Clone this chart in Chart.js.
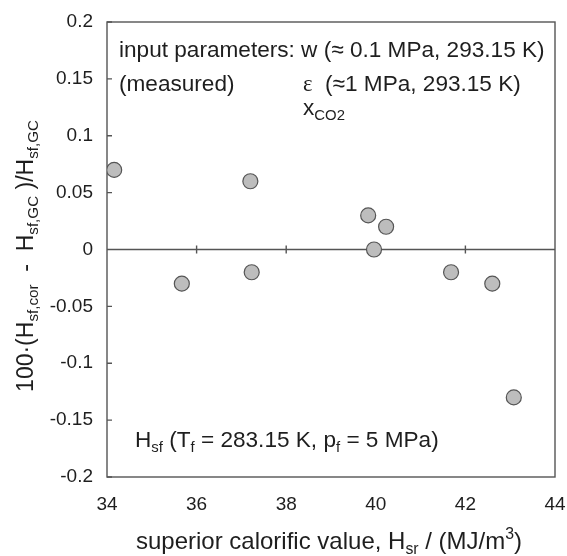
<!DOCTYPE html>
<html>
<head>
<meta charset="utf-8">
<script src="https://cdn.jsdelivr.net/npm/chart.js@4/dist/chart.umd.min.js"></script>
<style>
  html, body { margin:0; padding:0; background:#fff; }
  #wrap { width:567px; height:556px; }
</style>
</head>
<body>
<div id="wrap"><canvas id="chart" width="567" height="556"></canvas></div>
<script>
// data
const hsf = [34.16, 35.67, 37.2, 37.23, 39.83, 39.96, 40.23, 41.68, 42.6, 43.08];
const deviation = [0.07, -0.03, 0.06, -0.02, 0.03, 0, 0.02, -0.02, -0.03, -0.13];
const xTicks = [34, 36, 38, 40, 42, 44];
const yTicks = [-0.2, -0.15, -0.1, -0.05, 0, 0.05, 0.1, 0.15, 0.2];

const FONT = '"Liberation Sans", Arial, sans-serif';
const SERIF = '"Liberation Serif", serif';
const TXT = '#1e1e1e';

// draws a run of [text, 'n'|'sub'|'sup', font?] pieces starting at x,y (baseline)
function drawRich(ctx, parts, x, y, size) {
  ctx.textBaseline = 'alphabetic';
  ctx.textAlign = 'left';
  parts.forEach(([t, kind, fam]) => {
    const s = kind === 'n' ? size : size * 0.66;
    const dy = kind === 'sub' ? size * 0.2 : kind === 'sup' ? -size * 0.4 : 0;
    ctx.font = s + 'px ' + (fam || FONT);
    ctx.fillText(t, x, y + dy);
    x += ctx.measureText(t).width;
  });
  return x;
}
function richWidth(ctx, parts, size) {
  let w = 0;
  parts.forEach(([t, kind, fam]) => {
    const s = kind === 'n' ? size : size * 0.66;
    ctx.font = s + 'px ' + (fam || FONT);
    w += ctx.measureText(t).width;
  });
  return w;
}

const decor = {
  id: 'decor',
  beforeDatasetsDraw(chart) {
    const { ctx, chartArea: a, scales: { x, y } } = chart;
    ctx.save();
    ctx.strokeStyle = '#555';
    ctx.lineWidth = 1.4;
    ctx.strokeRect(a.left, a.top, a.right - a.left, a.bottom - a.top);
    // zero line with crossing ticks
    const y0 = y.getPixelForValue(0);
    ctx.beginPath();
    ctx.moveTo(a.left, y0); ctx.lineTo(a.right, y0);
    xTicks.slice(1, -1).forEach(v => {
      const px = x.getPixelForValue(v);
      ctx.moveTo(px, y0 - 4); ctx.lineTo(px, y0 + 4);
    });
    // inward ticks on left axis
    yTicks.forEach(v => {
      const py = y.getPixelForValue(v);
      ctx.moveTo(a.left, py); ctx.lineTo(a.left + 5, py);
    });
    ctx.stroke();
    ctx.restore();
  },
  afterDraw(chart) {
    const { ctx } = chart;
    ctx.save();
    ctx.fillStyle = TXT;
    // annotations
    drawRich(ctx, [['input parameters: w (≈ 0.1 MPa, 293.15 K)', 'n']], 119, 57, 22.6);
    drawRich(ctx, [['(measured)', 'n']], 119, 91, 22.6);
    drawRich(ctx, [['ε', 'n', SERIF], ['  (≈1 MPa, 293.15 K)', 'n']], 303, 91, 22.6);
    drawRich(ctx, [['x', 'n', 'bold ' + FONT], ['CO2', 'sub']], 303, 115, 22.6);
    drawRich(ctx, [['H', 'n'], ['sf', 'sub'], [' (T', 'n'], ['f', 'sub'], [' = 283.15 K, p', 'n'], ['f', 'sub'], [' = 5 MPa)', 'n']], 135, 447, 22.6);

    // x title
    const xt = [['superior calorific value, H', 'n'], ['sr', 'sub'], [' / (MJ/m', 'n'], ['3', 'sup'], [')', 'n']];
    drawRich(ctx, xt, 329 - richWidth(ctx, xt, 24) / 2, 549, 24);

    // y title, rotated
    const yt = [['100·(H', 'n'], ['sf,cor', 'sub'], ['  -  H', 'n'], ['sf,GC', 'sub'], [' )/H', 'n'], ['sf,GC', 'sub']];
    ctx.translate(33, 256);
    ctx.rotate(-Math.PI / 2);
    drawRich(ctx, yt, -richWidth(ctx, yt, 23) / 2, 0, 23);
    ctx.restore();
  }
};

new Chart(document.getElementById('chart'), {
  type: 'scatter',
  data: {
    datasets: [{
      data: hsf.map((v, i) => ({ x: v, y: deviation[i] })),
      backgroundColor: '#bdbdbd',
      borderColor: '#555',
      borderWidth: 1.2,
      pointRadius: 7.5,
      pointHoverRadius: 7.5
    }]
  },
  options: {
    responsive: false,
    animation: false,
    layout: { padding: { top: 22, right: 12, left: 0, bottom: 0 } },
    plugins: { legend: { display: false }, tooltip: { enabled: false } },
    scales: {
      x: {
        type: 'linear', min: 34, max: 44,
        afterBuildTicks: s => { s.ticks = xTicks.map(v => ({ value: v })); },
        afterFit: s => { s.height = 79; s.paddingLeft = 0; s.paddingRight = 0; },
        grid: { display: false, drawTicks: false },
        border: { display: false },
        ticks: { padding: 16, color: TXT, font: { family: FONT, size: 19 }, maxRotation: 0 }
      },
      y: {
        type: 'linear', min: -0.2, max: 0.2,
        afterBuildTicks: s => { s.ticks = yTicks.map(v => ({ value: v })); },
        afterFit: s => { s.width = 107; s.paddingTop = 0; s.paddingBottom = 0; },
        grid: { display: false, drawTicks: false },
        border: { display: false },
        ticks: {
          padding: 14, color: TXT, font: { family: FONT, size: 19 },
          callback: v => String(+v.toFixed(2))
        }
      }
    }
  },
  plugins: [decor]
});
</script>
</body>
</html>
